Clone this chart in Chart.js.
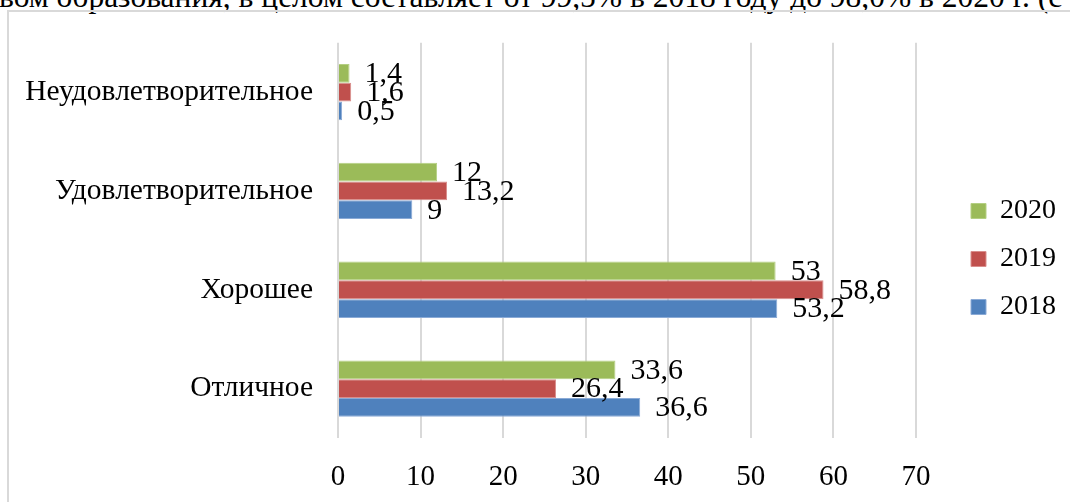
<!DOCTYPE html>
<html>
<head>
<meta charset="utf-8">
<script src="https://cdn.jsdelivr.net/npm/chart.js@4"></script>
<style>
  html, body { margin: 0; padding: 0; background: #fff; overflow: hidden; }
  #wrap { position: relative; width: 1070px; height: 502px; overflow: hidden; }
  #lead {
    position: absolute; left: -1px; top: -19px; white-space: nowrap;
    font: 31.5px/31.5px "Liberation Serif", serif; color: #000;
  }
  #frame {
    position: absolute; left: 7px; top: 10px; width: 1200px; height: 600px;
    border-left: 2px solid #d9d9d9; border-top: 2px solid #d9d9d9;
  }
  canvas { position: absolute; left: 0; top: 0; }
</style>
</head>
<body>
<div id="wrap">
  <div id="lead">вом образования, в целом составляет от 99,5% в 2018 году до 98,0% в 2020 г. (с</div>
  <div id="frame"></div>
  <canvas id="chart" width="1070" height="502"></canvas>
</div>
<script>
// Chart data
const categories = ["Неудовлетворительное", "Удовлетворительное", "Хорошее", "Отличное"];
const years = ["2020", "2019", "2018"];
const values2020 = [1.4, 12, 53, 33.6];
const values2019 = [1.6, 13.2, 58.8, 26.4];
const values2018 = [0.5, 9, 53.2, 36.6];
const xTicks = [0, 10, 20, 30, 40, 50, 60, 70];

const FONT = "'Liberation Serif', 'Times New Roman', serif";

// value labels drawn just past the end of each bar
const valueLabels = {
    id: "valueLabels",
    afterDatasetsDraw(chart) {
        const ctx = chart.ctx;
        ctx.save();
        ctx.font = "30px " + FONT;
        ctx.fillStyle = "#000";
        ctx.textAlign = "left";
        ctx.textBaseline = "middle";
        chart.data.datasets.forEach((ds, i) => {
            chart.getDatasetMeta(i).data.forEach((bar, j) => {
                const txt = String(ds.data[j]).replace(".", ",");
                ctx.fillText(txt, bar.x + 15, bar.y + 1);
            });
        });
        ctx.restore();
    }
};

// move the legend block over to the right edge like in the original
const legendShift = {
    id: "legendShift",
    afterLayout(chart) {
        const lg = chart.legend;
        if (!lg) return;
        const dx = 951 - lg.left;
        lg.left += dx;
        lg.right += dx;
        lg.top -= 10;
        lg.bottom -= 10;
    }
};

new Chart(document.getElementById("chart"), {
    type: "bar",
    data: {
        labels: categories,
        datasets: [
            { label: years[0], data: values2020, backgroundColor: "#9BBB59", borderColor: "#b4cf83", borderWidth: 1 },
            { label: years[1], data: values2019, backgroundColor: "#C0504D", borderColor: "#d98e8c", borderWidth: 1 },
            { label: years[2], data: values2018, backgroundColor: "#4F81BD", borderColor: "#8aaad6", borderWidth: 1 }
        ]
    },
    options: {
        indexAxis: "y",
        responsive: false,
        animation: false,
        devicePixelRatio: 1,
        categoryPercentage: 0.57,
        barPercentage: 1.0,
        layout: { padding: { top: 36, bottom: 0, left: 0, right: 39 } },
        scales: {
            x: {
                min: 0,
                max: 70,
                afterBuildTicks(scale) {
                    scale.ticks = xTicks.map(v => ({ value: v }));
                },
                afterFit(scale) { scale.height = 64; },
                grid: { color: "#d9d9d9", lineWidth: 2, drawTicks: false },
                border: { display: false },
                ticks: { color: "#000", font: { family: FONT, size: 29 }, padding: 22, maxRotation: 0 }
            },
            y: {
                afterFit(scale) { scale.width = 338; },
                grid: { display: false, drawTicks: false },
                border: { display: false },
                ticks: { color: "#000", font: { family: FONT, size: 29.5 }, padding: 25 }
            }
        },
        plugins: {
            legend: {
                position: "right",
                align: "center",
                labels: {
                    color: "#000",
                    font: { family: FONT, size: 28 },
                    boxWidth: 15,
                    boxHeight: 15,
                    padding: 20
                }
            },
            tooltip: { enabled: false }
        }
    },
    plugins: [valueLabels, legendShift]
});
</script>
</body>
</html>
